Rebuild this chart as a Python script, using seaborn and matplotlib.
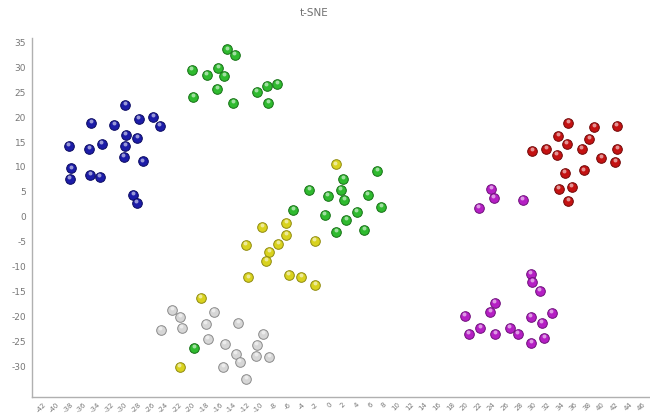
import numpy as np
import pandas as pd
import seaborn as sns
import matplotlib
matplotlib.use("Agg")
import matplotlib.pyplot as plt
from matplotlib.transforms import offset_copy

# Cluster embeddings (t-SNE dim 1 / dim 2)
blue_x = [-29.9, -34.9, -31.5, -27.9, -25.8, -24.8, -29.8, -28.1, -38.2, -35.2,
          -33.3, -29.9, -30.1, -27.3, -37.8, -38.0, -35.0, -33.6, -28.7, -28.2]
blue_y = [22.4, 18.9, 18.5, 19.7, 20.1, 18.3, 16.5, 15.9, 14.3, 13.7,
          14.7, 14.3, 12.1, 11.1, 9.7, 7.5, 8.3, 7.9, 4.3, 2.8]

green_x = [-14.9, -13.8, -20.1, -16.2, -17.9, -15.4, -16.4, -19.9, -14.0, -10.6,
           -9.1, -7.6, -8.9,
           7.1, 2.1, -2.9, -0.2, 1.7, 2.2, 5.7, -5.2, -0.6, 4.1, 7.7, 2.5, 1.1, 5.2,
           -19.8]
green_y = [33.6, 32.4, 29.5, 29.9, 28.4, 28.3, 25.7, 24.0, 22.9, 25.0,
           26.2, 26.6, 22.8,
           9.1, 7.6, 5.4, 4.2, 5.3, 3.4, 4.4, 1.4, 0.3, 0.9, 1.9, -0.7, -3.0, -2.7,
           -26.4]

yellow_x = [1.0, -6.3, -9.8, -6.3, -7.4, -2.1, -12.2, -8.8, -9.2, -11.8,
            -5.9, -4.1, -2.0, -18.8, -21.9]
yellow_y = [10.5, -1.2, -2.0, -3.7, -5.5, -4.9, -5.7, -7.1, -8.9, -12.2,
            -11.7, -12.1, -13.7, -16.4, -30.1]

gray_x = [-23.0, -21.8, -16.9, -24.7, -21.6, -18.1, -13.3, -17.8, -9.6, -15.3,
          -10.6, -13.7, -10.7, -8.8, -13.1, -15.5, -12.1]
gray_y = [-18.7, -20.1, -19.1, -22.7, -22.4, -21.5, -21.3, -24.5, -23.6, -25.5,
          -25.7, -27.5, -27.9, -28.1, -29.1, -30.1, -32.6]

red_x = [35.1, 38.9, 42.2, 33.6, 34.9, 38.2, 29.8, 31.9, 33.4, 37.1,
         42.3, 39.9, 42.0, 34.6, 37.4, 33.7, 35.6, 35.1]
red_y = [18.9, 18.1, 18.3, 16.3, 14.7, 15.7, 13.2, 13.6, 12.4, 13.6,
         13.6, 11.9, 11.0, 8.7, 9.3, 5.6, 5.9, 3.2]

magenta_x = [23.8, 24.2, 28.4, 22.0, 29.6, 29.8, 30.9, 24.3, 23.7, 19.9,
             29.6, 32.7, 31.2, 22.2, 26.5, 20.5, 24.4, 27.7, 31.6, 29.7]
magenta_y = [5.6, 3.8, 3.3, 1.7, -11.5, -13.1, -15.0, -17.4, -19.1, -19.9,
             -20.2, -19.4, -21.4, -22.3, -22.3, -23.5, -23.5, -23.5, -24.3, -25.4]

groups = {
    "blue": (blue_x, blue_y),
    "green": (green_x, green_y),
    "yellow": (yellow_x, yellow_y),
    "gray": (gray_x, gray_y),
    "red": (red_x, red_y),
    "magenta": (magenta_x, magenta_y),
}
fill = {"blue": "#1c1ca8", "green": "#2fba2f", "yellow": "#d9d21e",
        "gray": "#d6d6d6", "red": "#c41212", "magenta": "#b51fc4"}
edge = {"blue": "#0a0a60", "green": "#157015", "yellow": "#8f8a10",
        "gray": "#8a8a8a", "red": "#700808", "magenta": "#6e0f7a"}

frames = []
for name, (xs, ys) in groups.items():
    frames.append(pd.DataFrame({"x": xs, "y": ys, "cluster": name}))
df = pd.concat(frames, ignore_index=True)

sns.set_style("white")
plt.rcParams["axes.unicode_minus"] = False
fig = plt.figure(figsize=(6.5, 4.13), dpi=100)
ax = fig.add_axes([31.7 / 650, 1 - 397 / 413, 1 - 31.7 / 650, (397 - 38) / 413])

for name in groups:
    sub = df[df.cluster == name]
    sns.scatterplot(data=sub, x="x", y="y", ax=ax, s=48, color=fill[name],
                    edgecolor=edge[name], linewidth=0.7, legend=False, zorder=3)
    # glossy highlight on each sphere
    hl = offset_copy(ax.transData, fig=fig, x=-0.3, y=1.4, units="points")
    ax.scatter(sub.x, sub.y, s=8, color="white", alpha=0.55, linewidths=0,
               transform=hl, zorder=4)

ax.set_xlim(-43.6, 47.1)
ax.set_ylim(-36.2, 35.9)
ax.set_xticks(np.arange(-42, 47, 2))
ax.set_yticks(np.arange(-30, 36, 5))
ax.set_xlabel("")
ax.set_ylabel("")

for side in ("top", "right"):
    ax.spines[side].set_visible(False)
for side in ("left", "bottom"):
    ax.spines[side].set_color("#b0b0b0")
    ax.spines[side].set_linewidth(1.0)

ax.tick_params(axis="both", which="major", direction="out", length=2.5, width=0.8,
               color="#b0b0b0", labelcolor="#777777", pad=1.5)
ax.tick_params(axis="y", labelsize=6.5)
ax.tick_params(axis="x", labelsize=5, pad=0.5)
for lbl in ax.get_xticklabels():
    lbl.set_rotation(45)
    lbl.set_ha("right")
    lbl.set_va("top")
    lbl.set_rotation_mode("anchor")

fig.text(314 / 650, 1 - 13 / 413, "t-SNE", ha="center", va="center",
         fontsize=7.5, color="#707070")

fig.savefig("out.png", dpi=100)
